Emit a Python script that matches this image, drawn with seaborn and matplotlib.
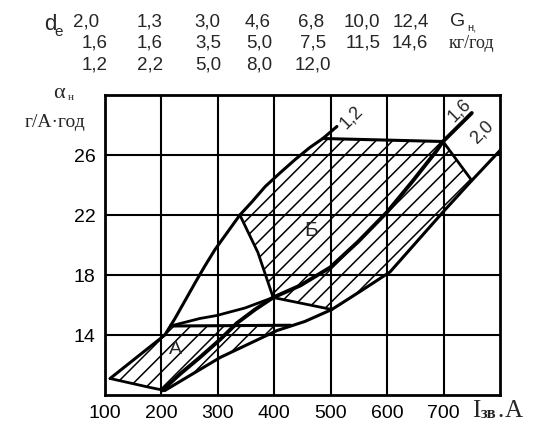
import numpy as np
import pandas as pd
import matplotlib
matplotlib.use("Agg")
import matplotlib.pyplot as plt
import seaborn as sns

# ---- data (I = current, A ; alpha = g/(A*h)) ----
I_12 = [109, 206, 224, 242, 260, 277, 295, 316, 339, 361, 384, 410, 437, 463, 486, 511]
a_12 = [11.1, 14.0, 15.1, 16.3, 17.5, 18.6, 19.7, 20.8, 22.0, 22.9, 23.9, 24.8, 25.7, 26.5, 27.1, 27.9]

I_16 = [201, 233, 268, 304, 334, 366, 398, 446, 499, 548, 600, 644, 688, 699, 750]
a_16 = [10.3, 11.4, 12.5, 13.7, 14.8, 15.7, 16.5, 17.3, 18.5, 20.2, 22.2, 24.2, 26.3, 26.9, 28.8]

I_20 = [206, 304, 405, 454, 502, 552, 605, 699, 750, 800]
a_20 = [10.3, 12.5, 14.3, 14.9, 15.7, 16.9, 18.2, 22.2, 24.3, 26.3]

# extra boundary lines
I_link = [216, 268, 298, 348, 398]
a_link = [14.6, 15.1, 15.3, 15.8, 16.5]
I_Atop = [216, 429]
a_Atop = [14.6, 14.65]
I_Abot = [109, 180, 206]
a_Abot = [11.1, 10.5, 10.3]
I_Btop = [486, 699]
a_Btop = [27.1, 26.9]
I_Bright = [699, 750]
a_Bright = [26.9, 24.3]
I_Bleft = [339, 371, 398, 502]
a_Bleft = [22.0, 19.5, 16.5, 15.7]

# hatched regions
I_regA = [109, 206, 216, 429, 405, 304, 206, 180]
a_regA = [11.1, 14.0, 14.6, 14.65, 14.3, 12.5, 10.3, 10.5]
I_regB = [339, 361, 384, 410, 437, 463, 486, 699, 750, 699, 605, 552, 502, 398, 371]
a_regB = [22.0, 22.9, 23.9, 24.8, 25.7, 26.5, 27.1, 26.9, 24.3, 22.2, 18.2, 16.9, 15.7, 16.5, 19.5]

x_ticks = [100, 200, 300, 400, 500, 600, 700]
y_ticks = [14, 18, 22, 26]

# table above the chart
row1 = ["2,0", "1,3", "3,0", "4,6", "6,8", "10,0", "12,4"]
row2 = ["1,6", "1,6", "3,5", "5,0", "7,5", "11,5", "14,6"]
row3 = ["1,2", "2,2", "5,0", "8,0", "12,0"]

# ---------------------------------------------------------------
sns.set_style("white")
plt.rcParams["font.family"] = ["Liberation Sans", "DejaVu Sans"]
plt.rcParams["hatch.linewidth"] = 1.1

W, H = 550, 421
fig = plt.figure(figsize=(W / 100, H / 100), dpi=100)
ax = fig.add_axes([105 / W, 1 - 395 / H, 395 / W, 300 / H])
ax.set_xlim(100, 800)
ax.set_ylim(10, 30)

def fx(x):
    return x / W

def fy(y):
    return 1 - y / H

# hatched areas
for xs, ys in [(I_regA, a_regA), (I_regB, a_regB)]:
    ax.fill(xs, ys, facecolor="none", edgecolor="black", hatch="//", linewidth=0, zorder=1)

def line(xs, ys, lw=2.0):
    df = pd.DataFrame({"I": xs, "a": ys})
    sns.lineplot(data=df, x="I", y="a", ax=ax, color="black", linewidth=lw,
                 estimator=None, sort=False, zorder=3)

line(I_12, a_12, 2.2)
line(I_16, a_16, 2.8)
line(I_20, a_20, 2.2)
line(I_link, a_link, 2.0)
line(I_Atop, a_Atop, 2.2)
line(I_Abot, a_Abot, 2.0)
line(I_Btop, a_Btop, 2.2)
line(I_Bright, a_Bright, 2.0)
line(I_Bleft, a_Bleft, 2.0)

ax.set_xlabel("")
ax.set_ylabel("")
ax.set_xticks(x_ticks)
ax.set_yticks(y_ticks)
ax.set_xticklabels([str(v) for v in x_ticks])
ax.set_yticklabels([str(v) for v in y_ticks])
ax.tick_params(axis="both", labelsize=14, length=3, width=1.5, color="black",
               direction="out", pad=4, labelcolor="black")
ax.grid(True, color="black", linewidth=1.5)
for s in ax.spines.values():
    s.set_color("black")
    s.set_linewidth(2.0)

# region and curve labels
ax.text(224, 13.0, "А", fontsize=14, ha="center", va="center", zorder=5)
ax.text(465, 21.0, "Б", fontsize=15, ha="center", va="center", zorder=5)
ax.text(536, 28.5, "1,2", fontsize=13, rotation=45, ha="center", va="center")
ax.text(729, 29.0, "1,6", fontsize=13, rotation=45, ha="center", va="center")
ax.text(768, 27.5, "2,0", fontsize=13, rotation=45, ha="center", va="center")

# axis titles
serif = ["Liberation Serif", "DejaVu Serif"]
fig.text(fx(59), fy(93), "α", fontsize=16, family=serif, ha="center", va="center")
fig.text(fx(71), fy(98), "н", fontsize=8, family=serif, ha="center", va="center")
fig.text(fx(55), fy(122), "г/А·год", fontsize=14, family=serif, ha="center", va="center")
fig.text(fx(472), fy(417), "I", fontsize=18, family=serif, ha="left", va="baseline")
fig.text(fx(481), fy(418), "зв", fontsize=12, family=serif, ha="left", va="baseline",
         fontweight="bold")
fig.text(fx(497), fy(417), ".", fontsize=18, family=serif, ha="left", va="baseline")
fig.text(fx(505), fy(417), "А", fontsize=18, family=serif, ha="left", va="baseline")

# table at top
fig.text(fx(50), fy(24), "d", fontsize=16, ha="center", va="center")
fig.text(fx(59), fy(32), "e", fontsize=11, ha="center", va="center")
cols1 = [86, 150, 207, 258, 311, 362, 411]
cols2 = [95, 150, 208, 259, 313, 363, 410]
for c, t in zip(cols1, row1):
    fig.text(fx(c), fy(22), t, fontsize=13.5, ha="center", va="center")
for c, t in zip(cols2, row2):
    fig.text(fx(c), fy(43), t, fontsize=13.5, ha="center", va="center")
for c, t in zip(cols2[:len(row3)], row3):
    fig.text(fx(c), fy(65), t, fontsize=13.5, ha="center", va="center")
fig.text(fx(450), fy(21), "G", fontsize=14, ha="left", va="center")
fig.text(fx(467), fy(27), "н,", fontsize=8, ha="left", va="center")
fig.text(fx(449), fy(44), "кг/год", fontsize=13, family=serif, ha="left", va="center")

fig.savefig("out.png", dpi=100, facecolor="white")
